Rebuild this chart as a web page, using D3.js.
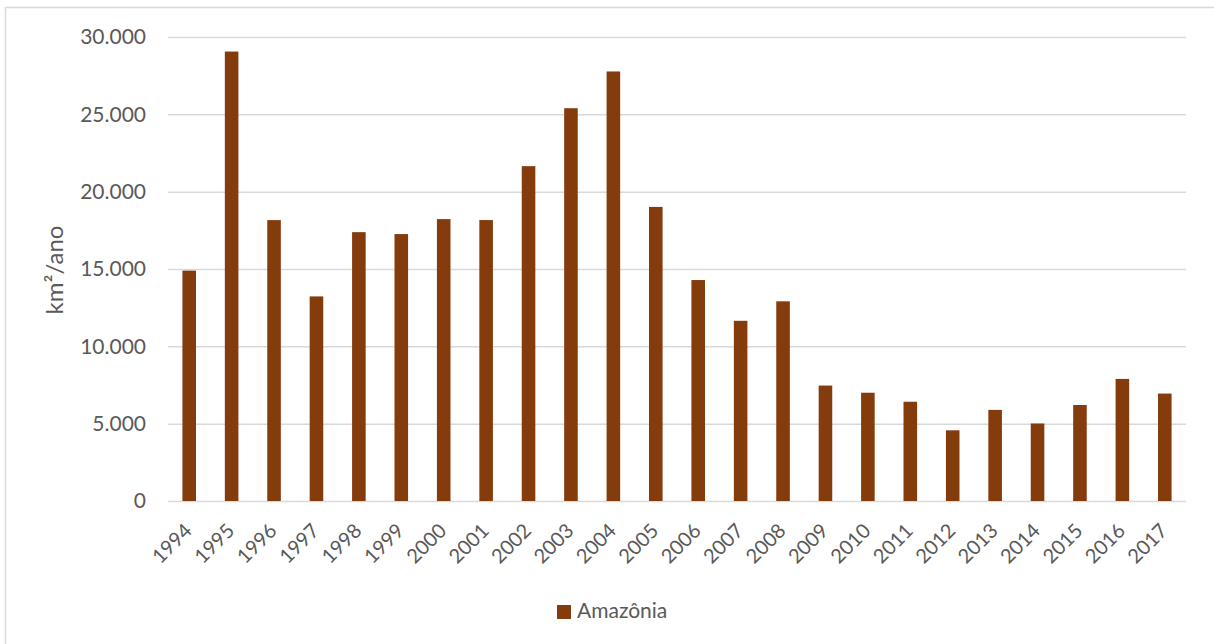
<!DOCTYPE html>
<html>
<head>
<meta charset="utf-8">
<script src="https://cdn.jsdelivr.net/npm/d3@7"></script>
<style>
  html, body { margin: 0; padding: 0; background: #fff; }
  svg { display: block; font-family: Lato, "Open Sans", sans-serif; }
</style>
</head>
<body>
<svg id="chart" width="1214" height="644"></svg>
<script>
// Annual deforestation in the Brazilian Amazon (km²/year)
const years = ["1994","1995","1996","1997","1998","1999","2000","2001","2002","2003","2004","2005",
               "2006","2007","2008","2009","2010","2011","2012","2013","2014","2015","2016","2017"];
const deforestation = [14896, 29059, 18161, 13227, 17383, 17259, 18226, 18165, 21650, 25396, 27772, 19014,
                       14286, 11651, 12911, 7464, 7000, 6418, 4571, 5891, 5012, 6207, 7893, 6947];
const yTicks = [0, 5000, 10000, 15000, 20000, 25000, 30000];
const seriesName = "Amazônia";
const yTitle = "km²/ano";

const svg = d3.select("#chart");
const textColor = "#595959";
const gridColor = "#d9d9d9";
const barColor = "#843C0C";

// frame (top and left edges fall inside the canvas)
svg.append("line").attr("x1", 5).attr("x2", 1214).attr("y1", 7.5).attr("y2", 7.5)
  .attr("stroke", gridColor).attr("stroke-width", 1.5);
svg.append("line").attr("x1", 5.5).attr("x2", 5.5).attr("y1", 7).attr("y2", 644)
  .attr("stroke", gridColor).attr("stroke-width", 1.5);

const plot = { left: 168, right: 1186, top: 37, bottom: 501 };

const x = d3.scaleBand().domain(years).range([plot.left, plot.right]).paddingInner(0.68).paddingOuter(0.34);
const y = d3.scaleLinear().domain([0, 30000]).range([plot.bottom, plot.top]);

const fmt = v => d3.format(",")(v).replace(/,/g, ".");

// horizontal gridlines and value labels
const yAxis = d3.axisLeft(y).tickValues(yTicks).tickSize(-(plot.right - plot.left)).tickFormat(fmt).tickPadding(22);
const gy = svg.append("g").attr("transform", `translate(${plot.left},0)`).call(yAxis);
gy.select(".domain").remove();
gy.selectAll(".tick line").attr("stroke", gridColor).attr("stroke-width", 1.5);
gy.selectAll(".tick text").attr("fill", textColor).style("font-size", "21px").attr("font-family", "Lato, sans-serif");

// bars
svg.append("g").selectAll("rect").data(years).join("rect")
  .attr("x", d => x(d))
  .attr("width", x.bandwidth())
  .attr("y", (d, i) => y(deforestation[i]))
  .attr("height", (d, i) => y(0) - y(deforestation[i]))
  .attr("fill", barColor);

// category axis with rotated labels
const xAxis = d3.axisBottom(x).tickSize(0).tickPadding(0);
const gx = svg.append("g").attr("transform", `translate(0,${plot.bottom})`).call(xAxis);
gx.select(".domain").remove();
gx.selectAll(".tick text")
  .attr("fill", textColor)
  .attr("font-family", "Lato, sans-serif")
  .style("font-size", "20px")
  .attr("text-anchor", "end")
  .attr("dy", 0)
  .attr("transform", "translate(4,31) rotate(-45)");

// y-axis title
svg.append("text")
  .attr("transform", `translate(63,270) rotate(-90)`)
  .attr("text-anchor", "middle")
  .attr("fill", textColor)
  .style("font-size", "24px")
  .text(yTitle);

// legend
const legend = svg.append("g").attr("transform", "translate(557,605)");
legend.append("rect").attr("width", 14).attr("height", 14).attr("fill", barColor);
legend.append("text").attr("x", 20).attr("y", 13).attr("fill", textColor)
  .style("font-size", "21px").text(seriesName);
</script>
</body>
</html>
